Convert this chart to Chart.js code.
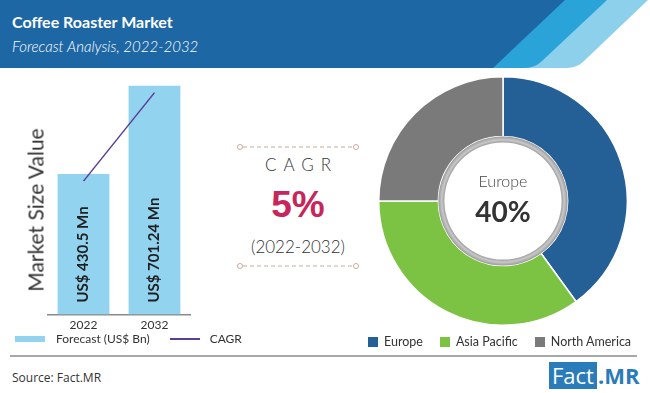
<!DOCTYPE html>
<html>
<head>
<meta charset="utf-8">
<script src="https://cdn.jsdelivr.net/npm/chart.js@4.4.1/dist/chart.umd.min.js"></script>
<style>
  body { margin: 0; width: 650px; height: 393px; background: #fff; position: relative; overflow: hidden; font-family: Lato, sans-serif; color: #333; }
  .abs { position: absolute; }
  #title { left: 12px; top: 12px; font-size: 16px; font-weight: bold; color: #fff; }
  #subtitle { left: 12px; top: 37px; font-size: 15px; font-style: italic; font-weight: 300; color: #fff; }
  #yTitle { left: 35px; top: 210px; font-size: 21px; font-weight: 400; color: #333; transform: translate(-50%, -50%) rotate(-90deg); white-space: nowrap; }
  .legend { display: flex; align-items: center; font-size: 12px; color: #333; white-space: nowrap; }
  .legend span.item { display: flex; align-items: center; }
  #pieLegend { font-size: 12.5px; }
  #cagrBox { left: 237px; top: 140px; width: 122px; height: 132px; text-align: center; }
  #cagrLabel { position: absolute; left: 0; right: 0; top: 14px; font-size: 17px; letter-spacing: 7px; padding-left: 7px; font-weight: 300; }
  #cagrValue { position: absolute; left: 0; right: 0; top: 44px; font-size: 37px; font-weight: bold; color: #c8255c; font-family: "Liberation Sans", Arial, sans-serif; }
  #cagrPeriod { position: absolute; left: 0; right: 0; top: 96px; font-size: 17px; font-weight: 300; }
  #rule { left: 10px; top: 355px; width: 627px; height: 2px; background: #a8a8a8; }
  #source { left: 12px; top: 369px; font-size: 12px; color: #333; font-family: "Open Sans", sans-serif; }
  #logo { left: 549px; top: 362px; display: flex; align-items: stretch; font-family: "Open Sans", sans-serif; font-size: 22px; height: 27px; line-height: 27px; }
  #logo .box { background: #2a7bba; color: #fff; padding: 0 3px; }
  #logo .mr { color: #2a7bba; font-weight: bold; padding-left: 1px; }
</style>
</head>
<body>
<svg class="abs" style="left:0;top:0" width="650" height="72">
  <path d="M0 0 H648 L584 61 Q577 68 567 68 H0 Z" fill="#8dd0eb"/>
  <path d="M0 0 H607 L542 61 Q535 68 525 68 H0 Z" fill="#2aa3d9"/>
  <path d="M0 0 H565 L493 68 H0 Z" fill="#1e67a5"/>
</svg>
<div id="title" class="abs">Coffee Roaster Market</div>
<div id="subtitle" class="abs">Forecast Analysis, 2022-2032</div>

<canvas id="barChart" class="abs" style="left:0;top:50px" width="230" height="285"></canvas>
<div id="yTitle" class="abs">Market Size Value</div>
<div id="barLegend" class="abs legend" style="left:15px;top:331px"></div>

<div id="cagrBox" class="abs">
  <svg class="abs" style="left:0;top:0" width="122" height="132">
    <line x1="6" y1="7" x2="116" y2="7" stroke="#c9ab9c" stroke-width="1" stroke-dasharray="4 3"/>
    <circle cx="3" cy="7" r="2.5" fill="#fff" stroke="#c9ab9c"/>
    <circle cx="119" cy="7" r="2.5" fill="#fff" stroke="#c9ab9c"/>
    <line x1="6" y1="126" x2="116" y2="126" stroke="#c9ab9c" stroke-width="1" stroke-dasharray="4 3"/>
    <circle cx="3" cy="126" r="2.5" fill="#fff" stroke="#c9ab9c"/>
    <circle cx="119" cy="126" r="2.5" fill="#fff" stroke="#c9ab9c"/>
  </svg>
  <div id="cagrLabel">CAGR</div>
  <div id="cagrValue"></div>
  <div id="cagrPeriod"></div>
</div>

<canvas id="pieChart" class="abs" style="left:375px;top:73px" width="256" height="256"></canvas>
<div id="pieLegend" class="abs legend" style="left:368px;top:334px"></div>

<div id="rule" class="abs"></div>
<div id="source" class="abs">Source: Fact.MR</div>
<div id="logo" class="abs"><span class="box">Fact</span><span class="mr">.MR</span></div>

<script>
// data
const years = ['2022', '2032'];
const marketValues = [430.5, 701.24];   // US$ Mn
const cagrLine = [409, 680];
const cagrValue = '5%';
const cagrPeriod = '(2022-2032)';
const regions = ['Europe', 'Asia Pacific', 'North America'];
const regionShares = [40, 35, 25];

const barColor = '#92d3f0';
const lineColor = '#5b3d94';
const regionColors = ['#245f96', '#7cc243', '#7a7a7a'];

document.getElementById('cagrValue').textContent = cagrValue;
document.getElementById('cagrPeriod').textContent = cagrPeriod;

// legend of the bar chart
document.getElementById('barLegend').innerHTML =
  '<span class="item"><span style="display:inline-block;width:30px;height:6px;background:' + barColor + ';margin-right:11px"></span>Forecast (US$ Bn)</span>' +
  '<span class="item" style="margin-left:20px"><span style="display:inline-block;width:30px;height:2px;background:' + lineColor + ';margin-right:10px"></span>CAGR</span>';

// legend of the doughnut
document.getElementById('pieLegend').innerHTML = regions.map((r, i) =>
  '<span class="item" style="margin-right:17px"><span style="display:inline-block;width:10px;height:10px;background:' + regionColors[i] + ';margin-right:6px"></span>' + r + '</span>'
).join('');

// vertical value labels inside the bars
const barLabelPlugin = {
  id: 'barLabels',
  afterDatasetsDraw(chart) {
    const meta = chart.getDatasetMeta(1);
    const ctx = chart.ctx;
    ctx.save();
    ctx.fillStyle = '#1f1f1f';
    ctx.font = 'bold 15px Lato';
    ctx.textAlign = 'left';
    ctx.textBaseline = 'middle';
    meta.data.forEach((bar, i) => {
      ctx.save();
      ctx.translate(bar.x, chart.chartArea.bottom - 12);
      ctx.rotate(-Math.PI / 2);
      ctx.fillText('US$ ' + marketValues[i] + ' Mn', 0, 0);
      ctx.restore();
    });
    ctx.restore();
  }
};

new Chart(document.getElementById('barChart'), {
  data: {
    labels: years,
    datasets: [
      { type: 'line', label: 'CAGR', data: cagrLine, borderColor: lineColor, borderWidth: 1.5, pointRadius: 0, order: 0 },
      { type: 'bar', label: 'Forecast (US$ Bn)', data: marketValues, backgroundColor: barColor, barPercentage: 0.73, categoryPercentage: 1, order: 1 }
    ]
  },
  options: {
    responsive: false,
    animation: false,
    layout: { padding: { left: 48, right: 40, top: 10, bottom: 0 } },
    plugins: { legend: { display: false }, tooltip: { enabled: false } },
    scales: {
      x: {
        grid: { display: false, drawTicks: false },
        border: { color: '#8a8a8a', width: 1.5 },
        ticks: { color: '#333', font: { size: 12, family: 'Lato' }, padding: 3 }
      },
      y: { display: false, min: 0, max: 780 }
    }
  },
  plugins: [barLabelPlugin]
});

// grey ring and centre text of the doughnut
const centerPlugin = {
  id: 'centerText',
  afterDraw(chart) {
    const arc = chart.getDatasetMeta(0).data[0];
    const ctx = chart.ctx;
    const cx = arc.x, cy = arc.y, r = arc.innerRadius;
    ctx.save();
    const g = ctx.createRadialGradient(cx, cy, r - 7, cx, cy, r);
    g.addColorStop(0, '#8e8e8e');
    g.addColorStop(0.5, '#c8c8c8');
    g.addColorStop(1, '#9a9a9a');
    ctx.beginPath();
    ctx.arc(cx, cy, r, 0, Math.PI * 2);
    ctx.fillStyle = g;
    ctx.fill();
    ctx.beginPath();
    ctx.arc(cx, cy, r - 6, 0, Math.PI * 2);
    ctx.fillStyle = '#fff';
    ctx.fill();
    ctx.textAlign = 'center';
    ctx.textBaseline = 'middle';
    ctx.fillStyle = '#444';
    ctx.font = '300 16px Lato';
    ctx.fillText(chart.data.labels[0], cx, cy - 19);
    ctx.fillStyle = '#333';
    ctx.font = 'bold 28px Lato';
    ctx.fillText(chart.data.datasets[0].data[0] + '%', cx, cy + 12);
    ctx.restore();
  }
};

new Chart(document.getElementById('pieChart'), {
  type: 'doughnut',
  data: {
    labels: regions,
    datasets: [{ data: regionShares, backgroundColor: regionColors, borderColor: '#fff', borderWidth: 1.5 }]
  },
  options: {
    responsive: false,
    animation: false,
    cutout: '52%',
    layout: { padding: 3 },
    plugins: { legend: { display: false }, tooltip: { enabled: false } }
  },
  plugins: [centerPlugin]
});
</script>
</body>
</html>
